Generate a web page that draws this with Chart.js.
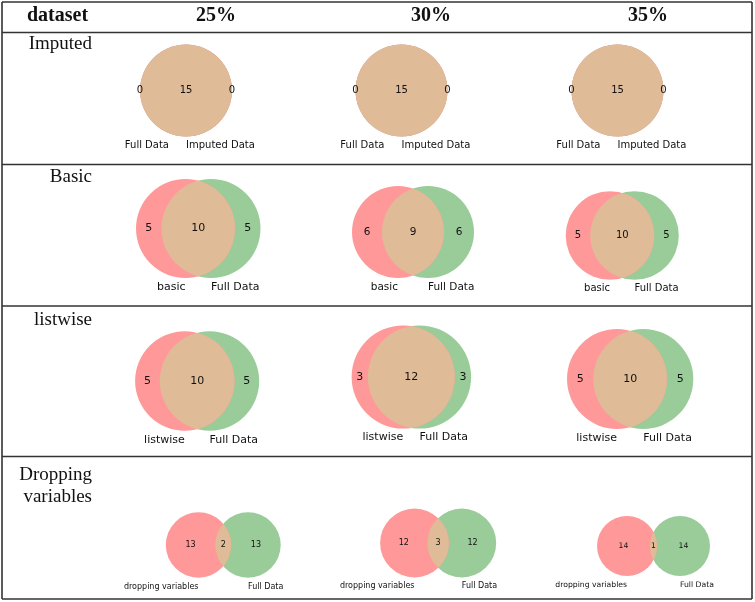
<!DOCTYPE html>
<html>
<head>
<meta charset="utf-8">
<script src="https://cdn.jsdelivr.net/npm/chart.js@4.4.1/dist/chart.umd.min.js"></script>
<style>
  body { margin: 0; background: #fff; }
  canvas { display: block; }
</style>
</head>
<body>
<canvas id="vennTable" width="755" height="602"></canvas>
<script>
// column headers and row names
const columnLabels = ['25%', '30%', '35%'];
const rowLabels = [['Imputed'], ['Basic'], ['listwise'], ['Dropping', 'variables']];

// set names per row (left circle, right circle)
const leftSetNames = ['Full Data', 'basic', 'listwise', 'dropping variables'];
const rightSetNames = ['Imputed Data', 'Full Data', 'Full Data', 'Full Data'];

// subset counts [row][column]
const onlyLeft  = [[0, 0, 0], [5, 6, 5], [5, 3, 5], [13, 12, 14]];
const overlap   = [[15, 15, 15], [10, 9, 10], [10, 12, 10], [2, 3, 1]];
const onlyRight = [[0, 0, 0], [5, 6, 5], [5, 3, 5], [13, 12, 14]];

// ---- layout (canvas pixels) ----
const tableLeft = 2, tableRight = 752;
const rowEdges = [2, 32.5, 164.5, 306, 456.5, 599];
const headerX = [216, 431, 648];
const headerY = 16;
const rowLabelRight = 92;
const rowLabelY = [[44], [177], [320], [475, 497]];
// per panel: left centre x, right centre x, centre y, radius, font size
const panels = [
  [[186, 186, 90.5, 46, 10], [401.5, 401.5, 90.5, 46, 10], [617.5, 617.5, 90.5, 46, 10]],
  [[185.5, 211, 228.5, 49.5, 11], [398, 428, 232, 46, 10.5], [610, 634.5, 235.5, 44.3, 10]],
  [[184.8, 209.5, 381, 49.7, 11], [403.2, 419.5, 377, 51.6, 11], [617, 643.3, 379, 50, 11]],
  [[198.5, 248, 545, 32.7, 8], [414.5, 461.8, 543, 34.4, 8], [627, 680, 546, 30, 7.7]]
];
const labelGap = [17, 0, 0, 0];

const leftColor = '#ff9999';
const rightColor = '#99cc99';
const mixColor = '#dfbb97';
const lineColor = '#333333';
const serif = '"Liberation Serif", "DejaVu Serif", serif';
const sans = '"DejaVu Sans", sans-serif';

// build circle points from the layout table
const leftCircles = [];
const rightCircles = [];
const panelInfo = [];
panels.forEach((row, r) => {
  row.forEach((p, c) => {
    leftCircles.push({x: p[0], y: p[2], r: p[3]});
    rightCircles.push({x: p[1], y: p[2], r: p[3]});
    panelInfo.push({row: r, col: c, font: p[4]});
  });
});

// table rules as line datasets
const ruleSets = [];
rowEdges.forEach(y => {
  ruleSets.push({
    type: 'line',
    data: [{x: tableLeft, y: y}, {x: tableRight, y: y}],
    borderColor: lineColor,
    borderWidth: 1.6,
    pointRadius: 0,
    clip: false
  });
});
[tableLeft, tableRight].forEach(x => {
  ruleSets.push({
    type: 'line',
    data: [{x: x, y: rowEdges[0]}, {x: x, y: rowEdges[rowEdges.length - 1]}],
    borderColor: lineColor,
    borderWidth: 1.6,
    pointRadius: 0,
    clip: false
  });
});

// overlap lens + all the texts
const vennPlugin = {
  id: 'vennText',
  afterDatasetsDraw(chart) {
    const ctx = chart.ctx;
    const xs = chart.scales.x, ys = chart.scales.y;
    const lefts = chart.getDatasetMeta(0).data;
    const rights = chart.getDatasetMeta(1).data;

    lefts.forEach((a, i) => {
      const b = rights[i];
      const ra = a.options.radius, rb = b.options.radius;
      const info = panelInfo[i];

      // intersection lens
      ctx.save();
      ctx.beginPath();
      ctx.arc(a.x, a.y, ra, 0, Math.PI * 2);
      ctx.clip();
      ctx.beginPath();
      ctx.arc(b.x, b.y, rb, 0, Math.PI * 2);
      ctx.fillStyle = mixColor;
      ctx.fill();
      ctx.restore();

      // subset counts
      const aL = a.x - ra, aR = a.x + ra, bL = b.x - rb, bR = b.x + rb;
      ctx.save();
      ctx.fillStyle = '#111';
      ctx.font = info.font + 'px ' + sans;
      ctx.textAlign = 'center';
      ctx.textBaseline = 'middle';
      ctx.fillText(String(onlyLeft[info.row][info.col]), (aL + bL) / 2, a.y);
      ctx.fillText(String(overlap[info.row][info.col]), (bL + aR) / 2, a.y);
      ctx.fillText(String(onlyRight[info.row][info.col]), (aR + bR) / 2, b.y);

      // set names under the circles
      const ly = Math.max(a.y + ra, b.y + rb) + 9;
      ctx.textAlign = 'right';
      ctx.fillText(leftSetNames[info.row], a.x - labelGap[info.row], ly);
      ctx.textAlign = 'left';
      ctx.fillText(rightSetNames[info.row], b.x, ly);
      ctx.restore();
    });

    // header row
    ctx.save();
    ctx.fillStyle = '#111';
    ctx.textBaseline = 'middle';
    ctx.font = 'bold 20px ' + serif;
    ctx.textAlign = 'left';
    ctx.fillText('dataset', xs.getPixelForValue(27), ys.getPixelForValue(headerY));
    ctx.textAlign = 'center';
    columnLabels.forEach((t, c) => {
      ctx.fillText(t, xs.getPixelForValue(headerX[c]), ys.getPixelForValue(headerY));
    });

    // row names
    ctx.font = '19px ' + serif;
    ctx.textAlign = 'right';
    rowLabels.forEach((lines, r) => {
      lines.forEach((t, k) => {
        ctx.fillText(t, xs.getPixelForValue(rowLabelRight), ys.getPixelForValue(rowLabelY[r][k]));
      });
    });
    ctx.restore();
  }
};

const ctx = document.getElementById('vennTable').getContext('2d');
new Chart(ctx, {
  type: 'bubble',
  data: {
    datasets: [{
      label: 'left set',
      data: leftCircles,
      backgroundColor: leftColor,
      borderWidth: 0
    }, {
      label: 'right set',
      data: rightCircles,
      backgroundColor: rightColor,
      borderWidth: 0
    }].concat(ruleSets)
  },
  options: {
    responsive: false,
    animation: false,
    devicePixelRatio: 1,
    events: [],
    layout: { padding: 0, autoPadding: false },
    plugins: {
      legend: { display: false },
      tooltip: { enabled: false }
    },
    scales: {
      x: { type: 'linear', min: 0, max: 755, display: false },
      y: { type: 'linear', min: 0, max: 602, reverse: true, display: false }
    }
  },
  plugins: [vennPlugin]
});
</script>
</body>
</html>
